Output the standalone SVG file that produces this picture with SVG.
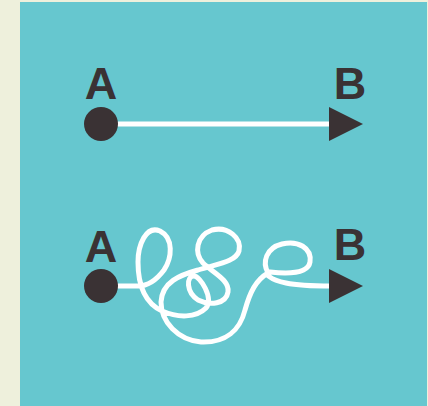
<svg xmlns="http://www.w3.org/2000/svg" width="428" height="406" viewBox="0 0 428 406">
<style>
.lbl{font-family:"Liberation Sans",Arial,sans-serif;font-weight:bold;font-size:45px;fill:#3a3234;text-anchor:middle}
.dot{fill:#3a3234}
.head{fill:#3a3234}
.wire{fill:none;stroke:#ffffff;stroke-width:5;stroke-linecap:round;stroke-linejoin:round}
</style>
<rect x="0" y="0" width="428" height="406" fill="#eef0dc"/>
<rect x="20" y="2" width="407" height="404" fill="#66c7cf"/>
<g id="connectors">
<path class="wire" d="M118,124 H331"/>
<path class="wire" d="M118,286 L138,286 C150,286 158,278 164,270 C172,258 174,238 160,231 C146,225 138,245 138,262 C138,285 145,303 162,311 C178,318 196,318 206,308 C214,298 200,276 194,276 C186,276 186,292 198,300 C210,306 226,304 228,292 C230,280 212,272 203,263 C194,253 196,236 212,230 C228,226 242,238 239,251 C236,262 216,264 198,270 C180,275 162,282 161,302 C161,322 178,340 201,342 C226,343 240,330 245,310 C250,292 256,280 268,273 C262,262 266,248 282,244 C298,240 312,248 310,262 C308,274 288,274 270,272 C262,272 270,280 286,283 C300,286 315,286 331,286"/>
</g>
<g id="nodeA1">
<circle class="dot" cx="101" cy="124" r="17"/>
<text class="lbl" x="101" y="99">A</text>
</g>
<g id="nodeB1">
<polygon class="head" points="329,107 329,141 363,124"/>
<text class="lbl" x="350" y="99">B</text>
</g>
<g id="nodeA2">
<circle class="dot" cx="101" cy="286" r="17"/>
<text class="lbl" x="101" y="262">A</text>
</g>
<g id="nodeB2">
<polygon class="head" points="329,269 329,303 363,286"/>
<text class="lbl" x="350" y="260">B</text>
</g>
</svg>
